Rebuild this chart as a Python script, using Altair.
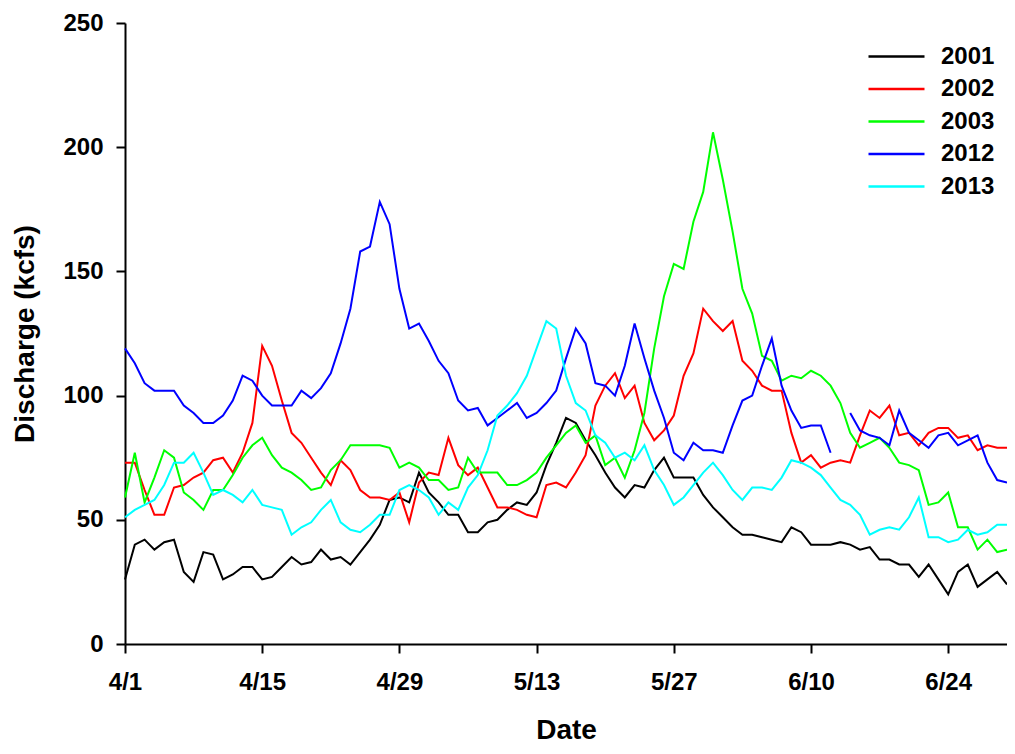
import altair as alt
import pandas as pd

days = list(range(91))

years = ["2001", "2002", "2003", "2012", "2013"]
colors = ["#000000", "#FF0000", "#00FF00", "#0000FF", "#00FFFF"]

q2001 = [26, 40, 42, 38, 41, 42, 29, 25, 37, 36, 26, 28, 31, 31, 26, 27, 31, 35, 32, 33,
         38, 34, 35, 32, 37, 42, 48, 58, 59, 57, 69, 61, 57, 52, 52, 45, 45, 49, 50, 54,
         57, 56, 61, 72, 81, 91, 89, 82, 76, 69, 63, 59, 64, 63, 70, 75, 67, 67, 67, 60,
         55, 51, 47, 44, 44, 43, 42, 41, 47, 45, 40, 40, 40, 41, 40, 38, 39, 34, 34, 32,
         32, 27, 32, 26, 20, 29, 32, 23, 26, 29, 24]
q2002 = [73, 73, 62, 52, 52, 63, 64, 67, 69, 74, 75, 69, 77, 89, 120, 112, 98, 85, 81, 75,
         69, 64, 74, 70, 62, 59, 59, 58, 61, 49, 65, 69, 68, 83, 72, 68, 71, 63, 55, 55,
         54, 52, 51, 64, 65, 63, 69, 76, 96, 104, 109, 99, 104, 89, 82, 86, 92, 108, 117, 135,
         130, 126, 130, 114, 110, 104, 102, 102, 85, 73, 76, 71, 73, 74, 73, 84, 94, 91, 96, 84,
         85, 80, 85, 87, 87, 83, 84, 78, 80, 79, 79]
q2003 = [59, 77, 57, 67, 78, 75, 61, 58, 54, 62, 62, 68, 75, 80, 83, 76, 71, 69, 66, 62,
         63, 70, 74, 80, 80, 80, 80, 79, 71, 73, 71, 66, 66, 62, 63, 75, 69, 69, 69, 64,
         64, 66, 69, 75, 80, 85, 88, 81, 84, 72, 75, 67, 78, 93, 119, 140, 153, 151, 170, 182,
         206, 187, 166, 143, 133, 116, 114, 106, 108, 107, 110, 108, 104, 97, 85, 79, 81, 83, 79, 73,
         72, 70, 56, 57, 61, 47, 47, 38, 42, 37, 38]
q2012 = [119, 113, 105, 102, 102, 102, 96, 93, 89, 89, 92, 98, 108, 106, 100, 96, 96, 96, 102, 99,
         103, 109, 121, 135, 158, 160, 178, 169, 143, 127, 129, 122, 114, 109, 98, 94, 95, 88, 91, 94,
         97, 91, 93, 97, 102, 115, 127, 121, 105, 104, 100, 112, 129, 115, 102, 91, 77, 74, 81, 78,
         78, 77, 88, 98, 100, 112, 123, 104, 94, 87, 88, 88, 77, None, 93, 86, 84, 83, 80, 94,
         85, 82, 79, 84, 85, 80, 82, 84, 73, 66, 65]
q2013 = [51, 54, 56, 58, 64, 73, 73, 77, 69, 60, 62, 60, 57, 62, 56, 55, 54, 44, 47, 49,
         54, 58, 49, 46, 45, 48, 52, 52, 62, 64, 62, 59, 52, 57, 54, 63, 68, 78, 92, 96,
         101, 108, 119, 130, 127, 108, 97, 94, 84, 81, 75, 77, 74, 80, 70, 64, 56, 59, 64, 69,
         73, 68, 62, 58, 63, 63, 62, 67, 74, 73, 71, 68, 63, 58, 56, 52, 44, 46, 47, 46,
         51, 59, 43, 43, 41, 42, 46, 44, 45, 48, 48]

tick_days = [0, 14, 28, 42, 56, 70, 84]
tick_labels = ["4/1", "4/15", "4/29", "5/13", "5/27", "6/10", "6/24"]
y_ticks = [0, 50, 100, 150, 200, 250]

series = {"2001": q2001, "2002": q2002, "2003": q2003, "2012": q2012, "2013": q2013}
rows = []
for yr in years:
    for d, v in zip(days, series[yr]):
        rows.append({"day": d, "year": yr, "q": v})
df = pd.DataFrame(rows)

label_map = ", ".join(f"'{d}': '{l}'" for d, l in zip(tick_days, tick_labels))
label_expr = "{" + label_map + "}[datum.value]"

FONT = "Liberation Sans"

chart = alt.Chart(df).mark_line(strokeWidth=2).encode(
    x=alt.X("day:Q",
            scale=alt.Scale(domain=[0, 90], nice=False, zero=False),
            axis=alt.Axis(values=tick_days, labelExpr=label_expr, title="Date",
                          titlePadding=22, labelPadding=17)),
    y=alt.Y("q:Q",
            scale=alt.Scale(domain=[0, 250], nice=False),
            axis=alt.Axis(values=y_ticks, title="Discharge (kcfs)",
                          titlePadding=23, labelPadding=13)),
    color=alt.Color("year:N",
                    scale=alt.Scale(domain=years, range=colors),
                    legend=alt.Legend(title=None, orient="none", legendX=756, legendY=18,
                                      symbolType="M-2,0H2", symbolSize=784,
                                      symbolStrokeWidth=2.5, rowPadding=4.5,
                                      labelFont=FONT, labelFontSize=24, labelFontWeight="bold",
                                      labelColor="#000000", labelOffset=29)),
).properties(
    width=882,
    height=621,
    autosize=alt.AutoSizeParams(type="none"),
    padding={"left": 117, "top": 15, "right": 0, "bottom": 102},
).configure_axis(
    grid=False,
    domainColor="#000000",
    domainWidth=2,
    tickColor="#000000",
    tickWidth=2,
    tickSize=9,
    labelFont=FONT,
    labelFontSize=24,
    labelFontWeight="bold",
    labelColor="#000000",
    titleFont=FONT,
    titleFontSize=28,
    titleFontWeight="bold",
    titleColor="#000000",
    labelFlush=False,
    labelOverlap=False,
).configure_view(stroke=None)

chart.save("out.html", embed_options={"renderer": "svg", "actions": False})
